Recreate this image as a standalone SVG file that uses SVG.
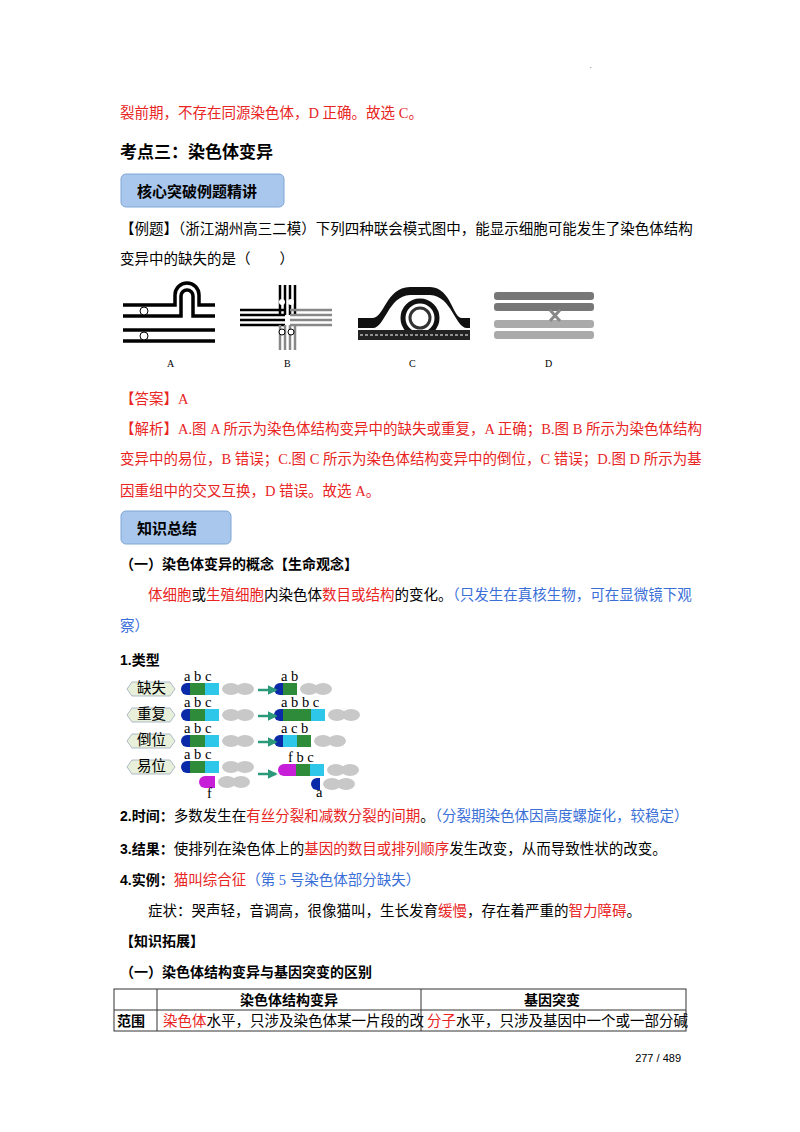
<svg xmlns="http://www.w3.org/2000/svg" width="800" height="1132" viewBox="0 0 800 1132">
<style>
text{font-family:"Liberation Serif","Noto Sans CJK SC",serif;font-size:14.5px;fill:#000}
.r{fill:#e8251f}.b{fill:#3a6fd8}.bd{font-weight:bold;font-family:"Liberation Sans","Noto Sans CJK SC",sans-serif}
.btn{fill:#a9c7ec;stroke:#7fa6d6;stroke-width:1}
.bl{stroke:#000;stroke-width:3.5;fill:none}
.gy{fill:#c8c8c8}
.lab{font-size:9px;font-family:"Liberation Serif",serif}
.cl{font-size:10px;font-family:"Liberation Serif",serif}
</style>
<rect width="800" height="1132" fill="#fff"/>
<text x="590" y="68" style="font-size:6px">.</text>
<text x="120" y="118" class="r">裂前期，不存在同源染色体，D 正确。故选 C。</text>
<text x="120" y="158" class="bd" style="font-size:17px">考点三：染色体变异</text>
<g id="btn1"><rect class="btn" x="121" y="174" width="163" height="33" rx="5"/><text x="137" y="197" class="bd" style="font-size:15px">核心突破例题精讲</text></g>
<text x="120" y="234">【例题】（浙江湖州高三二模）下列四种联会模式图中，能显示细胞可能发生了染色体结构</text>
<text x="120" y="264">变异中的缺失的是（　　）</text>
<g id="figA">
<path class="bl" d="M123 305H175V295A12 12 0 0 1 199 295V305H215"/>
<path class="bl" d="M123 316H181V296A6 6 0 0 1 193 296V316H215"/>
<line class="bl" x1="123" y1="330" x2="215" y2="330"/><line class="bl" x1="123" y1="341" x2="215" y2="341"/>
<circle cx="144" cy="311" r="4" fill="#fff" stroke="#000"/><circle cx="144" cy="336" r="4" fill="#fff" stroke="#000"/>
<text x="167" y="367" class="cl">A</text></g>
<g id="figB">
<g stroke="#000" stroke-width="2.5"><line x1="280" y1="285" x2="280" y2="315"/><line x1="285" y1="285" x2="285" y2="315"/><line x1="290" y1="285" x2="290" y2="315"/><line x1="295" y1="285" x2="295" y2="315"/>
<line x1="240" y1="310" x2="285" y2="310"/><line x1="240" y1="315" x2="285" y2="315"/><line x1="240" y1="320" x2="285" y2="320"/><line x1="240" y1="325" x2="285" y2="325"/></g>
<g stroke="#888" stroke-width="2.5"><line x1="280" y1="325" x2="280" y2="350"/><line x1="285" y1="325" x2="285" y2="350"/><line x1="290" y1="325" x2="290" y2="350"/><line x1="295" y1="325" x2="295" y2="350"/>
<line x1="290" y1="310" x2="332" y2="310"/><line x1="290" y1="315" x2="332" y2="315"/><line x1="290" y1="320" x2="332" y2="320"/><line x1="290" y1="325" x2="332" y2="325"/></g>
<circle cx="282" cy="302" r="3" fill="#fff"/><circle cx="291" cy="302" r="3" fill="#fff"/><circle cx="282" cy="332" r="3" fill="#fff" stroke="#000"/><circle cx="291" cy="332" r="3" fill="#fff" stroke="#000"/>
<text x="284" y="367" class="cl">B</text></g>
<g id="figC">
<path d="M358 328H373C385 328 388 296 410 295H430C452 296 455 328 467 328H470V318H462C452 318 452 288 430 287H410C385 288 385 318 372 318H358Z" fill="#111"/>
<circle cx="420" cy="318" r="17" fill="none" stroke="#111" stroke-width="5"/>
<circle cx="420" cy="318" r="10" fill="none" stroke="#333" stroke-width="3"/>
<rect x="358" y="330" width="112" height="10" fill="#222"/><line x1="360" y1="335" x2="468" y2="335" stroke="#fff" stroke-dasharray="3 2"/>
<text x="409" y="367" class="cl">C</text></g>
<g id="figD">
<rect x="494" y="292" width="100" height="8" rx="3" fill="#777"/><rect x="494" y="303" width="100" height="8" rx="3" fill="#777"/>
<rect x="494" y="320" width="100" height="8" rx="3" fill="#aaa"/><rect x="494" y="331" width="100" height="8" rx="3" fill="#aaa"/>
<path d="M550 310L560 321M560 310L550 321" stroke="#888" stroke-width="3"/>
<text x="545" y="367" class="cl">D</text></g>
<text x="120" y="404" class="r">【答案】A</text>
<text x="120" y="434" class="r">【解析】A.图 A 所示为染色体结构变异中的缺失或重复，A 正确；B.图 B 所示为染色体结构</text>
<text x="120" y="464" class="r">变异中的易位，B 错误；C.图 C 所示为染色体结构变异中的倒位，C 错误；D.图 D 所示为基</text>
<text x="120" y="496" class="r">因重组中的交叉互换，D 错误。故选 A。</text>
<g id="btn2"><rect class="btn" x="121" y="511" width="110" height="33" rx="5"/><text x="137" y="534" class="bd" style="font-size:15px">知识总结</text></g>
<text x="120" y="569" class="bd" style="font-size:14px">（一）染色体变异的概念【生命观念】</text>
<text x="148" y="600"><tspan class="r">体细胞</tspan>或<tspan class="r">生殖细胞</tspan>内染色体<tspan class="r">数目或结构</tspan>的变化。<tspan class="b">（只发生在真核生物，可在显微镜下观</tspan></text>
<text x="120" y="631" class="b">察）</text>
<text x="120" y="665" class="bd" style="font-size:14px">1.类型</text>
<g id="types">
<g fill="#e8f0dc" stroke="#9ab" stroke-width="0.8">
<path d="M127 689l5-7h38l5 7-5 7h-38z"/><path d="M127 715l5-7h38l5 7-5 7h-38z"/><path d="M127 741l5-7h38l5 7-5 7h-38z"/><path d="M127 767l5-7h38l5 7-5 7h-38z"/></g>
<g style="font-size:11px"><text x="137" y="693">缺失</text><text x="137" y="719">重复</text><text x="137" y="745">倒位</text><text x="137" y="771">易位</text></g>
<defs><g id="tail"><ellipse cx="8" cy="0" rx="9" ry="6" fill="#c8c8c8"/><ellipse cx="22" cy="0" rx="9" ry="6" fill="#c8c8c8"/></g>
<marker id="ar" viewBox="0 0 6 6" refX="5" refY="3" markerWidth="4" markerHeight="4" orient="auto"><path d="M0 0L6 3L0 6z" fill="#2a9a7a"/></marker></defs>
<g id="rows">
<!-- row 1 -->
<path d="M190 683h-3a6 6 0 0 0 0 12h3z" fill="#0a2aa8"/><rect x="190" y="683" width="15" height="12" fill="#2e8b3a"/><rect x="205" y="683" width="14" height="12" fill="#2ec7ea"/><use href="#tail" x="223" y="689"/>
<path d="M283 683h-3a6 6 0 0 0 0 12h3z" fill="#0a2aa8"/><rect x="283" y="683" width="14" height="12" fill="#2e8b3a"/><use href="#tail" x="301" y="689"/>
<!-- row 2 -->
<path d="M190 709h-3a6 6 0 0 0 0 12h3z" fill="#0a2aa8"/><rect x="190" y="709" width="15" height="12" fill="#2e8b3a"/><rect x="205" y="709" width="14" height="12" fill="#2ec7ea"/><use href="#tail" x="223" y="715"/>
<path d="M283 709h-3a6 6 0 0 0 0 12h3z" fill="#0a2aa8"/><rect x="283" y="709" width="14" height="12" fill="#2e8b3a"/><rect x="297" y="709" width="14" height="12" fill="#2e8b3a"/><rect x="311" y="709" width="14" height="12" fill="#2ec7ea"/><use href="#tail" x="329" y="715"/>
<!-- row 3 -->
<path d="M190 735h-3a6 6 0 0 0 0 12h3z" fill="#0a2aa8"/><rect x="190" y="735" width="15" height="12" fill="#2e8b3a"/><rect x="205" y="735" width="14" height="12" fill="#2ec7ea"/><use href="#tail" x="223" y="741"/>
<path d="M283 735h-3a6 6 0 0 0 0 12h3z" fill="#0a2aa8"/><rect x="283" y="735" width="14" height="12" fill="#2ec7ea"/><rect x="297" y="735" width="14" height="12" fill="#2e8b3a"/><use href="#tail" x="315" y="741"/>
<!-- row 4 -->
<path d="M190 761h-3a6 6 0 0 0 0 12h3z" fill="#0a2aa8"/><rect x="190" y="761" width="15" height="12" fill="#2e8b3a"/><rect x="205" y="761" width="14" height="12" fill="#2ec7ea"/><use href="#tail" x="223" y="767"/>
<path d="M215 776h-10a6 6 0 0 0 0 12h10z" fill="#c71fd8"/><use href="#tail" x="219" y="782"/>
<path d="M296 764h-12a6 6 0 0 0 0 12h12z" fill="#c71fd8"/><rect x="296" y="764" width="14" height="12" fill="#2e8b3a"/><rect x="310" y="764" width="14" height="12" fill="#2ec7ea"/><use href="#tail" x="328" y="770"/>
<path d="M320 778h-3a6 6 0 0 0 0 12h3z" fill="#0a2aa8"/><use href="#tail" x="324" y="784"/>
</g>
<g stroke="#2a9a7a" stroke-width="2.5" marker-end="url(#ar)"><line x1="258" y1="690" x2="276" y2="690"/><line x1="258" y1="716" x2="276" y2="716"/><line x1="258" y1="742" x2="276" y2="742"/><line x1="258" y1="774" x2="276" y2="774"/></g>
<g class="lab"><text x="184" y="681">a  b  c</text><text x="281" y="681">a b</text><text x="184" y="707">a  b  c</text><text x="281" y="707">a  b  b  c</text><text x="184" y="733">a  b  c</text><text x="281" y="733">a  c  b</text><text x="184" y="759">a  b  c</text><text x="288" y="762">f  b  c</text><text x="207" y="798">f</text><text x="316" y="797">a</text></g>
</g>
<text x="120" y="821"><tspan class="bd" style="font-size:14px">2.时间：</tspan>多数发生在<tspan class="r">有丝分裂和减数分裂的间期</tspan>。<tspan class="b">（分裂期染色体因高度螺旋化，较稳定）</tspan></text>
<text x="120" y="854"><tspan class="bd" style="font-size:14px">3.结果：</tspan>使排列在染色体上的<tspan class="r">基因的数目或排列顺序</tspan>发生改变，从而导致性状的改变。</text>
<text x="120" y="885"><tspan class="bd" style="font-size:14px">4.实例：</tspan><tspan class="r">猫叫综合征</tspan><tspan class="b">（第 5 号染色体部分缺失）</tspan></text>
<text x="148" y="916">症状：哭声轻，音调高，很像猫叫，生长发育<tspan class="r">缓慢</tspan>，存在着严重的<tspan class="r">智力障碍</tspan>。</text>
<text x="120" y="946" class="bd" style="font-size:14px">【知识拓展】</text>
<text x="120" y="977" class="bd" style="font-size:14px">（一）染色体结构变异与基因突变的区别</text>
<g id="table" stroke="#333" stroke-width="1" fill="none">
<rect x="114" y="989" width="572" height="42"/><line x1="114" y1="1010" x2="686" y2="1010"/><line x1="157" y1="989" x2="157" y2="1031"/><line x1="421" y1="989" x2="421" y2="1031"/></g>
<text x="240" y="1005" class="bd" style="font-size:14px">染色体结构变异</text>
<text x="524" y="1005" class="bd" style="font-size:14px">基因突变</text>
<text x="117" y="1026" class="bd" style="font-size:14px">范围</text>
<text x="163" y="1026"><tspan class="r">染色体</tspan>水平，只涉及染色体某一片段的改</text>
<text x="427" y="1026"><tspan class="r">分子</tspan>水平，只涉及基因中一个或一部分碱</text>
<text x="681" y="1062" text-anchor="end" style="font-size:11px;font-family:'Liberation Sans',sans-serif">277 / 489</text>
</svg>
